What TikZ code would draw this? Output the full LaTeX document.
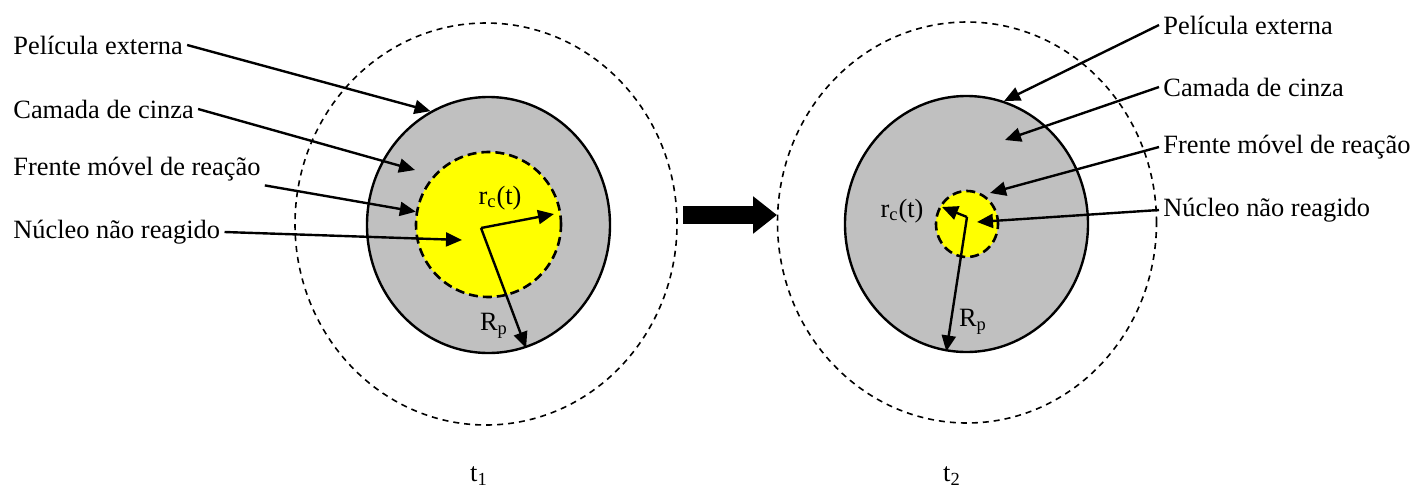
\documentclass[tikz,border=0pt]{standalone}
\usepackage{fontspec}
\setmainfont{Liberation Serif}
\usetikzlibrary{shapes.geometric,arrows.meta}
\definecolor{cinza}{RGB}{192,192,192}
\definecolor{amarelo}{RGB}{255,255,0}
\begin{document}
\begin{tikzpicture}[x=0.5pt, y=-0.5pt, line join=miter,
    film/.style={ellipse, draw, dash pattern=on 3pt off 2.5pt, line width=0.8pt, inner sep=0pt},
    ash/.style={ellipse, draw, fill=cinza, line width=1.2pt, inner sep=0pt},
    core/.style={ellipse, draw, fill=amarelo, dash pattern=on 4.5pt off 2.5pt, line width=1.3pt, inner sep=0pt},
    lbl/.style={font=\fontsize{13.2}{15}\selectfont, inner sep=2pt},
    ptr/.style={line width=1.2pt, -{Triangle[length=8pt,width=7pt]}},
    big/.style={line width=9pt, -{Triangle[length=12pt,width=18pt]}}]
  \useasboundingbox (0,0) rectangle (1415,488);
  % t1: partícula no início
  \begin{scope}
    \node[film, minimum width=191pt, minimum height=201pt] (film1) at (486,224) {};
    \node[ash, minimum width=121.5pt, minimum height=128pt] (ash1) at (488.5,225) {};
    \node[core, minimum size=72.5pt] (core1) at (488.5,224.5) {};
    \coordinate (c1) at (481,228);
    \coordinate (ca1) at (415,170);
    \coordinate (nu1) at (462,240);
    \coordinate (r1) at (554,214);
    \node[lbl, anchor=west] (pel1) at (9,45) {Película externa};
    \node[lbl, anchor=west] (cam1) at (9,109) {Camada de cinza};
    \node[lbl, anchor=west] (fre1) at (9,169) {Frente móvel de reação};
    \node[lbl, anchor=west] (nuc1) at (9,232) {Núcleo não reagido};
    \node[lbl] (rc1) at (500,198) {r\textsubscript{c}(t)};
    \node[lbl] (rp1) at (494,326) {R\textsubscript{p}};
    \node[lbl] (t1) at (479,476) {t\textsubscript{1}};
    \draw[ptr] (pel1.east) -- (ash1.117);
    \draw[ptr] (cam1.east) -- (ca1);
    \draw[ptr] (fre1.south east) -- (core1.170);
    \draw[ptr] (nuc1.east) -- (nu1);
    \draw[ptr] (c1) -- (r1);
    \draw[ptr] (c1) -- (ash1.-73);
  \end{scope}
  % seta entre t1 e t2
  \coordinate (s) at (683,215);
  \coordinate (e) at (777,215);
  \draw[big] (s) -- (e);
  % t2: núcleo menor
  \begin{scope}
    \node[film, minimum width=189.5pt, minimum height=200.5pt] (film2) at (967,222.5) {};
    \node[ash, minimum width=121.5pt, minimum height=128pt] (ash2) at (966.5,224) {};
    \node[core, minimum width=31pt, minimum height=33pt] (core2) at (967,224) {};
    \coordinate (c2) at (967,217);
    \coordinate (ca2) at (1005,140);
    \coordinate (fr2) at (990,193);
    \coordinate (nu2) at (977,222);
    \coordinate (r2) at (942,207);
    \node[lbl, anchor=west] (pel2) at (1159,25) {Película externa};
    \node[lbl, anchor=west] (cam2) at (1159,87) {Camada de cinza};
    \node[lbl, anchor=west] (fre2) at (1159,147) {Frente móvel de reação};
    \node[lbl, anchor=west] (nuc2) at (1159,210) {Núcleo não reagido};
    \node[lbl] (rc2) at (902,211) {r\textsubscript{c}(t)};
    \node[lbl] (rp2) at (973,322) {R\textsubscript{p}};
    \node[lbl] (t2) at (952,476) {t\textsubscript{2}};
    \draw[ptr] (pel2.west) -- (ash2.73);
    \draw[ptr] (cam2.west) -- (ca2);
    \draw[ptr] (fre2.west) -- (fr2);
    \draw[ptr] (nuc2.west) -- (nu2);
    \draw[ptr] (c2) -- (r2);
    \draw[ptr] (c2) -- (ash2.-99);
  \end{scope}
\end{tikzpicture}
\end{document}
